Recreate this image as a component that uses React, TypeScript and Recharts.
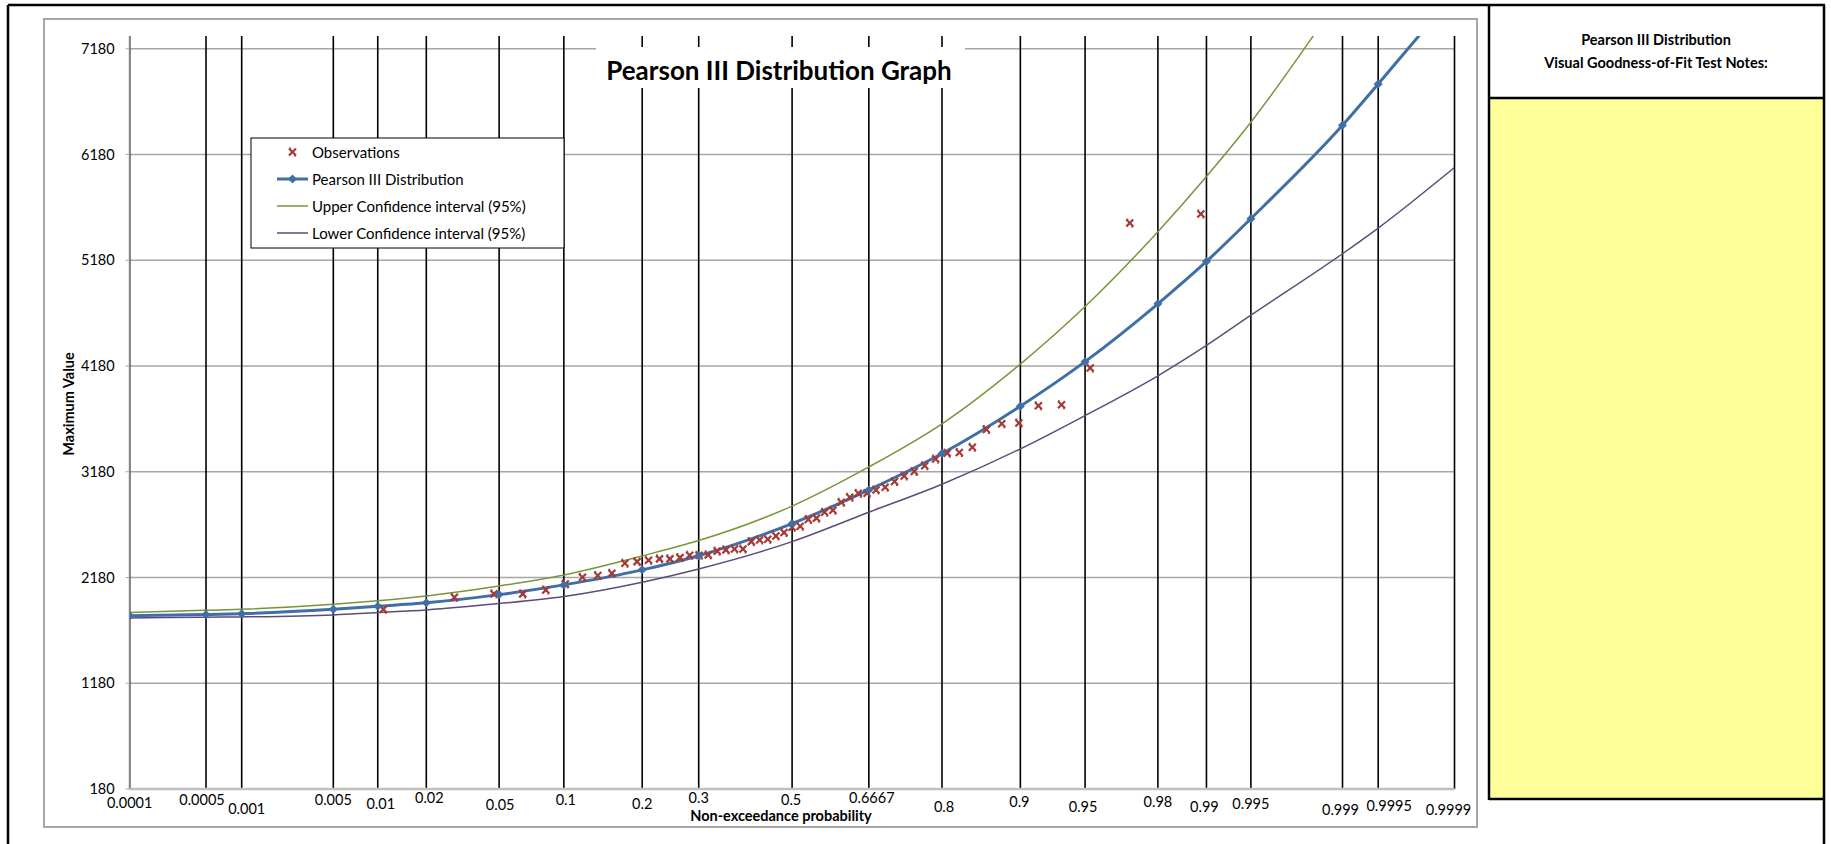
import React from 'react'
import {
  ComposedChart,
  Line,
  Scatter,
  XAxis,
  YAxis,
  ReferenceLine,
} from 'recharts'

// probability ticks on the normal-probability axis
const probTicks = [
  0.0001, 0.0005, 0.001, 0.005, 0.01, 0.02, 0.05, 0.1, 0.2, 0.3, 0.5, 0.6667, 0.8, 0.9, 0.95,
  0.98, 0.99, 0.995, 0.999, 0.9995, 0.9999,
]
const tickLabels = [
  '0.0001', '0.0005', '0.001', '0.005', '0.01', '0.02', '0.05', '0.1', '0.2', '0.3', '0.5',
  '0.6667', '0.8', '0.9', '0.95', '0.98', '0.99', '0.995', '0.999', '0.9995', '0.9999',
]

// fitted distribution and 95% confidence band, one value per probability tick
const pearson = [
  1819, 1829, 1838, 1880, 1908, 1941, 2018, 2110, 2252, 2386, 2690, 3008, 3352, 3800, 4221,
  4768, 5168, 5573, 6455, 6846, 7700,
]
const upper = [
  1848, 1870, 1880, 1927, 1961, 2006, 2099, 2204, 2384, 2529, 2855, 3225, 3633, 4198, 4742,
  5450, 5972, 6485, 7690, 8150, 9200,
]
const lower = [
  1798, 1804, 1807, 1826, 1848, 1873, 1933, 2000, 2135, 2261, 2519, 2797, 3062, 3396, 3711,
  4087, 4374, 4660, 5241, 5484, 6057,
]

// observations (plotting position, value)
const obsProb = [
  0.01087, 0.02899, 0.0471, 0.06522, 0.08333, 0.10145, 0.11957, 0.13768, 0.1558, 0.17391,
  0.19203, 0.21014, 0.22826, 0.24638, 0.26449, 0.28261, 0.30072, 0.31884, 0.33696, 0.35507,
  0.37319, 0.3913, 0.40942, 0.42754, 0.44565, 0.46377, 0.48188, 0.5, 0.51812, 0.53623,
  0.55435, 0.57246, 0.59058, 0.6087, 0.62681, 0.64493, 0.66304, 0.68116, 0.69928, 0.71739,
  0.73551, 0.75362, 0.77174, 0.78986, 0.80797, 0.82609, 0.8442, 0.86232, 0.88043, 0.89855,
  0.91667, 0.93478, 0.9529, 0.97101, 0.98913,
]
const obsValue = [
  1880, 1993, 2025, 2025, 2062, 2119, 2182, 2198, 2220, 2315, 2330, 2343, 2356, 2356, 2368,
  2391, 2391, 2394, 2429, 2441, 2450, 2450, 2519, 2535, 2542, 2573, 2605, 2655, 2665, 2728,
  2741, 2797, 2816, 2892, 2939, 2976, 2976, 3008, 3034, 3087, 3140, 3183, 3236, 3300, 3356,
  3362, 3412, 3580, 3633, 3640, 3803, 3813, 4160, 5531, 5617,
]

const yTicks = [180, 1180, 2180, 3180, 4180, 5180, 6180, 7180]

// inverse standard normal CDF (Acklam) - used as the x scale transform
function normInv(p: number): number {
  const a = [-39.69683028665376, 220.9460984245205, -275.9285104469687, 138.357751867269, -30.66479806614716, 2.506628277459239]
  const b = [-54.47609879822406, 161.5858368580409, -155.6989798598866, 66.80131188771972, -13.28068155288572]
  const c = [-0.007784894002430293, -0.3223964580411365, -2.400758277161838, -2.549732539343734, 4.374664141464968, 2.938163982698783]
  const d = [0.007784695709041462, 0.3224671290700398, 2.445134137142996, 3.754408661907416]
  const pl = 0.02425
  if (p < pl) {
    const q = Math.sqrt(-2 * Math.log(p))
    return (((((c[0] * q + c[1]) * q + c[2]) * q + c[3]) * q + c[4]) * q + c[5]) /
      ((((d[0] * q + d[1]) * q + d[2]) * q + d[3]) * q + 1)
  }
  if (p > 1 - pl) {
    const q = Math.sqrt(-2 * Math.log(1 - p))
    return -(((((c[0] * q + c[1]) * q + c[2]) * q + c[3]) * q + c[4]) * q + c[5]) /
      ((((d[0] * q + d[1]) * q + d[2]) * q + d[3]) * q + 1)
  }
  const q = p - 0.5
  const r = q * q
  return (((((a[0] * r + a[1]) * r + a[2]) * r + a[3]) * r + a[4]) * r + a[5]) * q /
    (((((b[0] * r + b[1]) * r + b[2]) * r + b[3]) * r + b[4]) * r + 1)
}

const zTicks = probTicks.map(normInv)
const curveRows = probTicks.map((p, i) => ({
  z: normInv(p),
  pearson: pearson[i],
  upper: upper[i],
  lower: lower[i],
}))
const obsRows = obsProb.map((p, i) => ({ z: normInv(p), value: obsValue[i] }))

const BLUE = '#3F6FA6'
const GREEN = '#77963A'
const PURPLE = '#5E4A7C'
const RED = '#A53935'
const FONT = 'Lato, "Open Sans", sans-serif'

// the x labels in the original sit at slightly staggered heights
const LABEL_NUDGE: Record<string, [number, number]> = {
  '0.0001': [0, 13], '0.0005': [-4, 10], '0.001': [5, 19], '0.005': [0, 10], '0.01': [3, 14],
  '0.02': [3, 8], '0.05': [1, 15], '0.1': [2, 10], '0.2': [0, 14], '0.3': [0, 8], '0.5': [-1, 10],
  '0.6667': [3, 8], '0.8': [2, 17], '0.9': [-1, 12], '0.95': [-2, 17], '0.98': [0, 12],
  '0.99': [-2, 17], '0.995': [0, 14], '0.999': [-2, 20], '0.9995': [11, 16], '0.9999': [-6, 20],
}

function ProbTick(props: any) {
  const { x, y, index } = props
  const label = tickLabels[index]
  const [dx, dy] = LABEL_NUDGE[label] || [0, 12]
  return (
    <text x={x + dx} y={y + dy} textAnchor="middle" dominantBaseline="central" fontSize={14.5} fill="#000">
      {label}
    </text>
  )
}

function XMark({ cx, cy, color = RED }: { cx: number; cy: number; color?: string }) {
  const s = 3.5
  return (
    <g stroke={color} strokeWidth={2.2}>
      <line x1={cx - s} y1={cy - s} x2={cx + s} y2={cy + s} />
      <line x1={cx - s} y1={cy + s} x2={cx + s} y2={cy - s} />
      <line x1={cx - s} y1={cy - s - 0.5} x2={cx - s + 2} y2={cy - s - 0.5} strokeWidth={1} />
      <line x1={cx + s - 2} y1={cy + s + 0.5} x2={cx + s} y2={cy + s + 0.5} strokeWidth={1} />
    </g>
  )
}

function Diamond({ cx, cy, color = BLUE }: { cx: number; cy: number; color?: string }) {
  const r = 4.5
  return <path d={`M${cx},${cy - r}L${cx + r},${cy}L${cx},${cy + r}L${cx - r},${cy}Z`} fill={color} />
}

export default function App() {
  return (
    <div style={{ position: 'absolute', left: 0, top: 0, width: 1831, height: 844, background: '#fff', fontFamily: FONT }}>
      <ComposedChart
        width={1831}
        height={844}
        data={curveRows}
        margin={{ top: 36, right: 376.5, bottom: 25, left: 69.7 }}
        style={{ position: 'absolute', left: 0, top: 0 }}
      >
        {yTicks.slice(1).map((v) => (
          <ReferenceLine key={`h${v}`} y={v} stroke="#A6A6A6" strokeWidth={1.5} />
        ))}
        {zTicks.map((z, i) => (
          <ReferenceLine key={`v${i}`} x={z} stroke="#000" strokeWidth={1.6} ifOverflow="visible" />
        ))}
        <XAxis
          type="number"
          dataKey="z"
          domain={[zTicks[0], zTicks[zTicks.length - 1]]}
          ticks={zTicks}
          interval={0}
          tickSize={0}
          tickMargin={0}
          tickLine={false}
          axisLine={{ stroke: '#BFBFBF', strokeWidth: 2.5 }}
          tick={<ProbTick />}
          height={30}
          allowDataOverflow
        />
        <YAxis
          type="number"
          domain={[180, 7300]}
          ticks={yTicks}
          interval={0}
          allowDataOverflow
          width={60}
          tickSize={4}
          tickMargin={11}
          tickLine={{ stroke: '#A6A6A6' }}
          axisLine={{ stroke: '#A6A6A6' }}
          tick={{ fontSize: 14.5, fill: '#000' }}
        />
        <Scatter
          name="Observations"
          data={obsRows}
          dataKey="value"
          isAnimationActive={false}
          shape={(p: any) => <XMark cx={p.cx} cy={p.cy} />}
        />
        <Line
          type="monotone"
          dataKey="upper"
          stroke={GREEN}
          strokeWidth={1.5}
          dot={false}
          activeDot={false}
          isAnimationActive={false}
        />
        <Line
          type="monotone"
          dataKey="lower"
          stroke={PURPLE}
          strokeWidth={1.5}
          dot={false}
          activeDot={false}
          isAnimationActive={false}
        />
        <Line
          type="monotone"
          dataKey="pearson"
          stroke={BLUE}
          strokeWidth={3}
          dot={(p: any) => <Diamond key={`d${p.index}`} cx={p.cx} cy={p.cy} />}
          activeDot={false}
          isAnimationActive={false}
        />
      </ComposedChart>

      <svg width={1831} height={844} style={{ position: 'absolute', left: 0, top: 0, pointerEvents: 'none' }} fontFamily={FONT}>
        {/* chart area frame */}
        <rect x={44} y={19} width={1433} height={808} fill="none" stroke="#A6A6A6" strokeWidth={2} />

        {/* title */}
        <rect x={596} y={47} width={369} height={41} fill="#fff" />
        <text x={779} y={70} textAnchor="middle" dominantBaseline="central" fontSize={26} fontWeight={700} fill="#000">
          Pearson III Distribution Graph
        </text>

        {/* axis titles */}
        <text x={781} y={815} textAnchor="middle" dominantBaseline="central" fontSize={14.5} fontWeight={700} fill="#000">
          Non-exceedance probability
        </text>
        <text
          x={68}
          y={404}
          textAnchor="middle"
          dominantBaseline="central"
          fontSize={14.5}
          fontWeight={700}
          fill="#000"
          transform="rotate(-90 68 404)"
        >
          Maximum Value
        </text>

        {/* legend */}
        <rect x={251} y={138} width={313} height={110} fill="#fff" stroke="#000" strokeWidth={1} />
        <XMark cx={292.5} cy={152} />
        <text x={312} y={152} dominantBaseline="central" fontSize={15} fill="#000">Observations</text>
        <line x1={277} y1={179} x2={308} y2={179} stroke={BLUE} strokeWidth={3} />
        <Diamond cx={292.5} cy={179} />
        <text x={312} y={179} dominantBaseline="central" fontSize={15} fill="#000">Pearson III Distribution</text>
        <line x1={277} y1={206} x2={308} y2={206} stroke={GREEN} strokeWidth={1.5} />
        <text x={312} y={206} dominantBaseline="central" fontSize={15} fill="#000">Upper Confidence interval (95%)</text>
        <line x1={277} y1={233} x2={308} y2={233} stroke={PURPLE} strokeWidth={1.5} />
        <text x={312} y={233} dominantBaseline="central" fontSize={15} fill="#000">Lower Confidence interval (95%)</text>

        {/* notes panel */}
        <rect x={1489} y={98} width={335} height={701} fill="#FFFF99" />
        <g stroke="#000" strokeWidth={2.5}>
          <line x1={8} y1={5} x2={1825} y2={5} />
          <line x1={8} y1={5} x2={8} y2={844} />
          <line x1={1824} y1={5} x2={1824} y2={844} />
          <line x1={1489} y1={5} x2={1489} y2={800} />
          <line x1={1489} y1={98} x2={1824} y2={98} />
          <line x1={1489} y1={799} x2={1824} y2={799} />
        </g>
        <text x={1656} y={39} textAnchor="middle" dominantBaseline="central" fontSize={14.5} fontWeight={700} fill="#000">
          Pearson III Distribution
        </text>
        <text x={1656} y={62} textAnchor="middle" dominantBaseline="central" fontSize={14.5} fontWeight={700} fill="#000">
          Visual Goodness-of-Fit Test Notes:
        </text>
      </svg>
    </div>
  )
}
